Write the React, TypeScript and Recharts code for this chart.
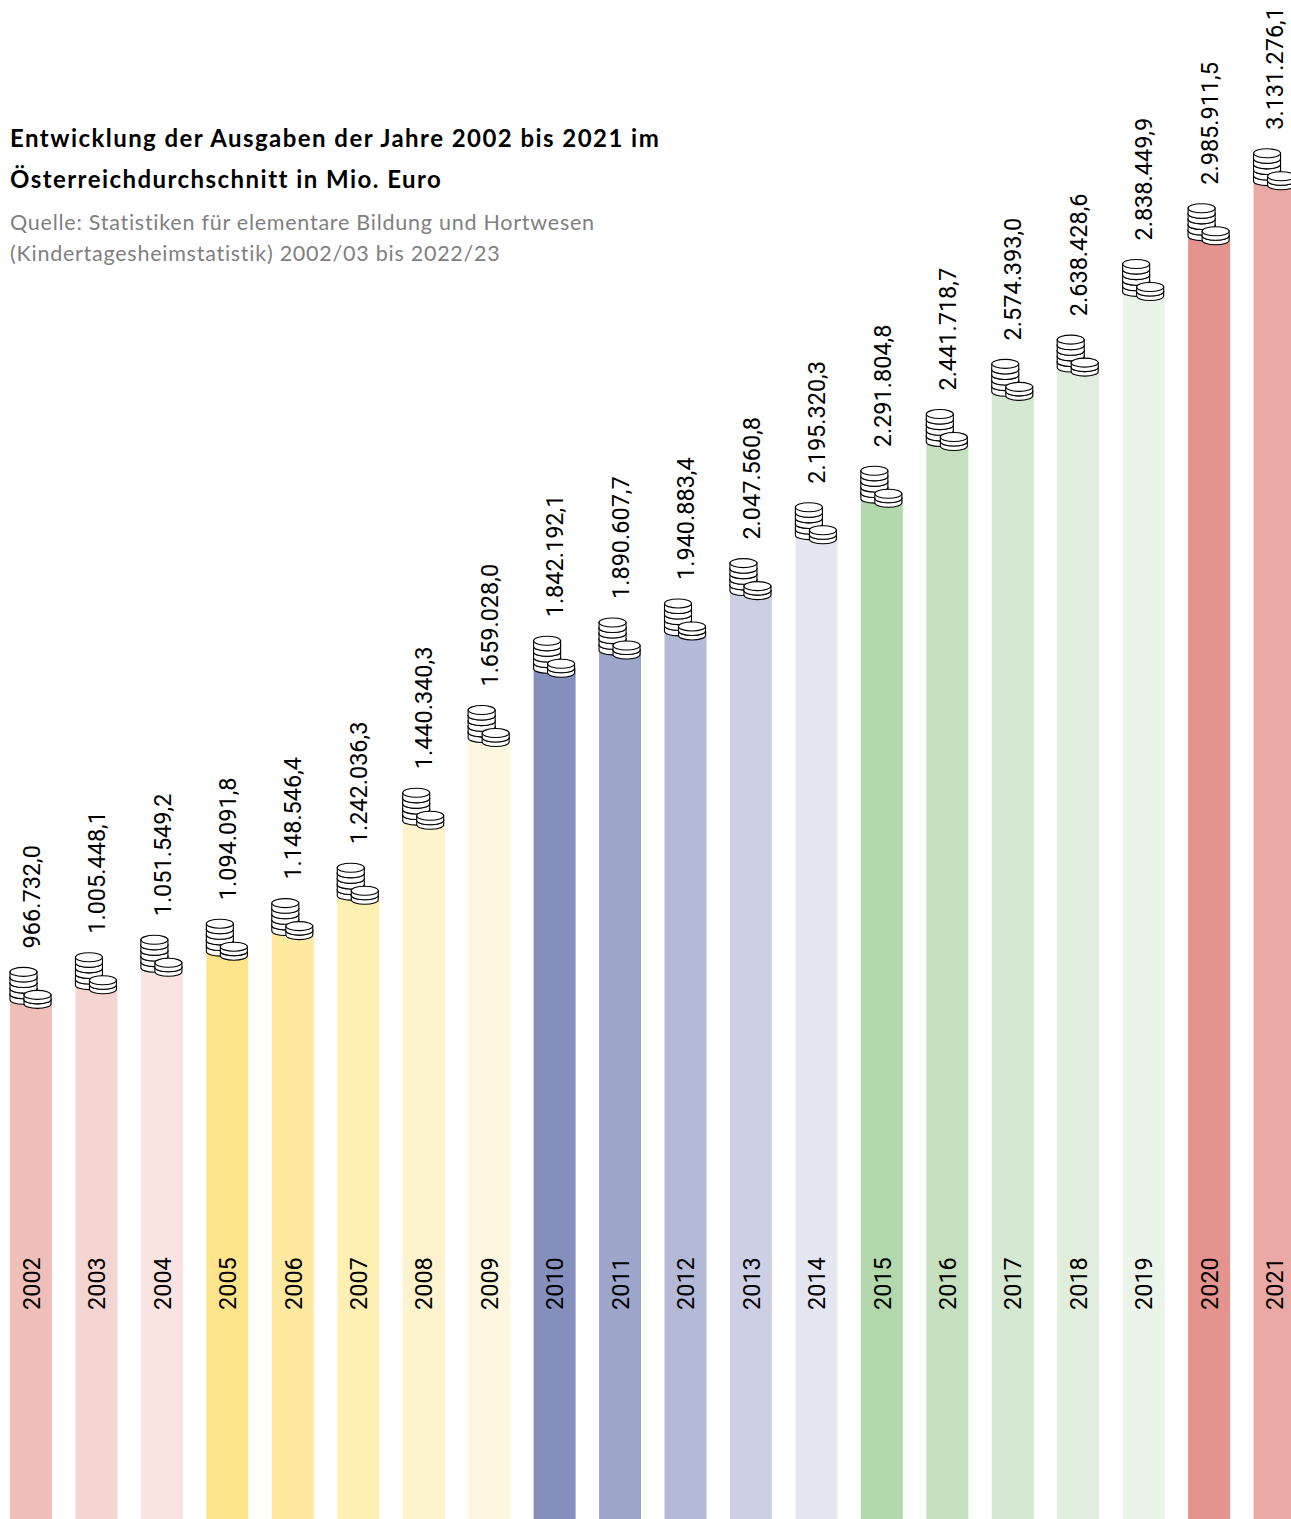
import { BarChart, Bar, Cell, XAxis, YAxis, LabelList } from "recharts";

const years = [
  "2002", "2003", "2004", "2005", "2006", "2007", "2008", "2009", "2010", "2011",
  "2012", "2013", "2014", "2015", "2016", "2017", "2018", "2019", "2020", "2021",
];

const spending = [
  966732.0, 1005448.1, 1051549.2, 1094091.8, 1148546.4, 1242036.3, 1440340.3,
  1659028.0, 1842192.1, 1890607.7, 1940883.4, 2047560.8, 2195320.3, 2291804.8,
  2441718.7, 2574393.0, 2638428.6, 2838449.9, 2985911.5, 3131276.1,
];

const colors = [
  "#f1bfba", "#f5d5d2", "#f9e4e2", "#fee58c", "#fee99f", "#feefb2", "#fef3cc",
  "#fef7e0", "#858fbd", "#9da5ca", "#b5b9d8", "#cdd0e5", "#e4e6f2", "#b3d8ad",
  "#c5e0bf", "#d5e8d2", "#e0eedd", "#eaf4e8", "#e5938e", "#eaa9a5",
];

const AXIS_MIN = -407200;
const AXIS_MAX = 3609200;

const data = years.map((year, i) => ({
  year,
  range: [AXIS_MIN, spending[i]],
  amount: spending[i],
}));

const fmt = (v: number) =>
  v.toLocaleString("de-DE", { minimumFractionDigits: 1, maximumFractionDigits: 1 });

// one coin: flat cylinder with a top ellipse
const Coin = ({ cx, cy, h }: { cx: number; cy: number; h: number }) => (
  <g>
    <path
      d={`M${cx - 13.5},${cy} v${h} a13.5,4.5 0 0 0 27,0 v${-h} Z`}
      fill="#fff"
      stroke="#000"
      strokeWidth={1.1}
    />
    <ellipse cx={cx} cy={cy} rx={13.5} ry={4.5} fill="#fff" stroke="#000" strokeWidth={1.1} />
  </g>
);

// bar plus two coin stacks sitting on its top edge
const CoinBar = (props: any) => {
  const { x, y, width, height, fill } = props;
  const big = [5.2, 10.8, 16.4, 22, 27.5]; // coin centres above the bar top, bottom coin first
  const small = [0, 4.5];
  return (
    <g>
      <rect x={x} y={y} width={width} height={height} fill={fill} />
      {big.map((o) => (
        <Coin key={o} cx={x + 13.5} cy={y - o} h={5.6} />
      ))}
      {small.map((o) => (
        <Coin key={o} cx={x + 27.5} cy={y - o} h={4.5} />
      ))}
    </g>
  );
};

const ValueLabel = (props: any) => {
  const { x, y, width, value } = props;
  const cx = x + width / 2 + 0.7;
  const py = y - 51;
  return (
    <text
      x={cx}
      y={py}
      transform={`rotate(-90 ${cx} ${py})`}
      dominantBaseline="central"
      fontFamily="Roboto"
      fontWeight={400}
      fontSize={23.5}
      fill="#000"
    >
      {fmt(value)}
    </text>
  );
};

const YearLabel = (props: any) => {
  const { x, width, value } = props;
  const cx = x + width / 2 + 0.7;
  const py = 1310;
  return (
    <text
      x={cx}
      y={py}
      transform={`rotate(-90 ${cx} ${py})`}
      dominantBaseline="central"
      fontFamily="Roboto"
      fontWeight={400}
      fontSize={23.5}
      fill="#000"
    >
      {value}
    </text>
  );
};

export default function App() {
  return (
    <div
      style={{
        position: "absolute",
        left: 0,
        top: 0,
        width: 1291,
        height: 1519,
        overflow: "hidden",
        background: "#fff",
      }}
    >
      <div style={{ position: "absolute", left: -1.7, top: 0 }}>
        <BarChart
          width={1309}
          height={1519}
          data={data}
          margin={{ top: 0, right: 0, bottom: 0, left: 0 }}
        >
          <XAxis dataKey="year" hide />
          <YAxis hide domain={[AXIS_MIN, AXIS_MAX]} allowDataOverflow />
          <Bar dataKey="range" barSize={42} shape={<CoinBar />} isAnimationActive={false}>
            {data.map((d, i) => (
              <Cell key={d.year} fill={colors[i]} />
            ))}
            <LabelList dataKey="amount" content={<ValueLabel />} />
            <LabelList dataKey="year" content={<YearLabel />} />
          </Bar>
        </BarChart>
      </div>

      <div style={{ position: "absolute", left: 10, top: 117, fontFamily: "Lato", color: "#000" }}>
        <div
          style={{
            fontSize: 24,
            fontWeight: 700,
            lineHeight: "41px",
            letterSpacing: 1.45,
            whiteSpace: "nowrap",
          }}
        >
          Entwicklung der Ausgaben der Jahre 2002 bis 2021 im
          <br />
          Österreichdurchschnitt in Mio. Euro
        </div>
        <div
          style={{
            fontSize: 21.5,
            fontWeight: 400,
            lineHeight: "31px",
            letterSpacing: 0.75,
            color: "#808080",
            marginTop: 8,
            whiteSpace: "nowrap",
          }}
        >
          Quelle: Statistiken für elementare Bildung und Hortwesen
          <br />
          (Kindertagesheimstatistik) 2002/03 bis 2022/23
        </div>
      </div>
    </div>
  );
}
